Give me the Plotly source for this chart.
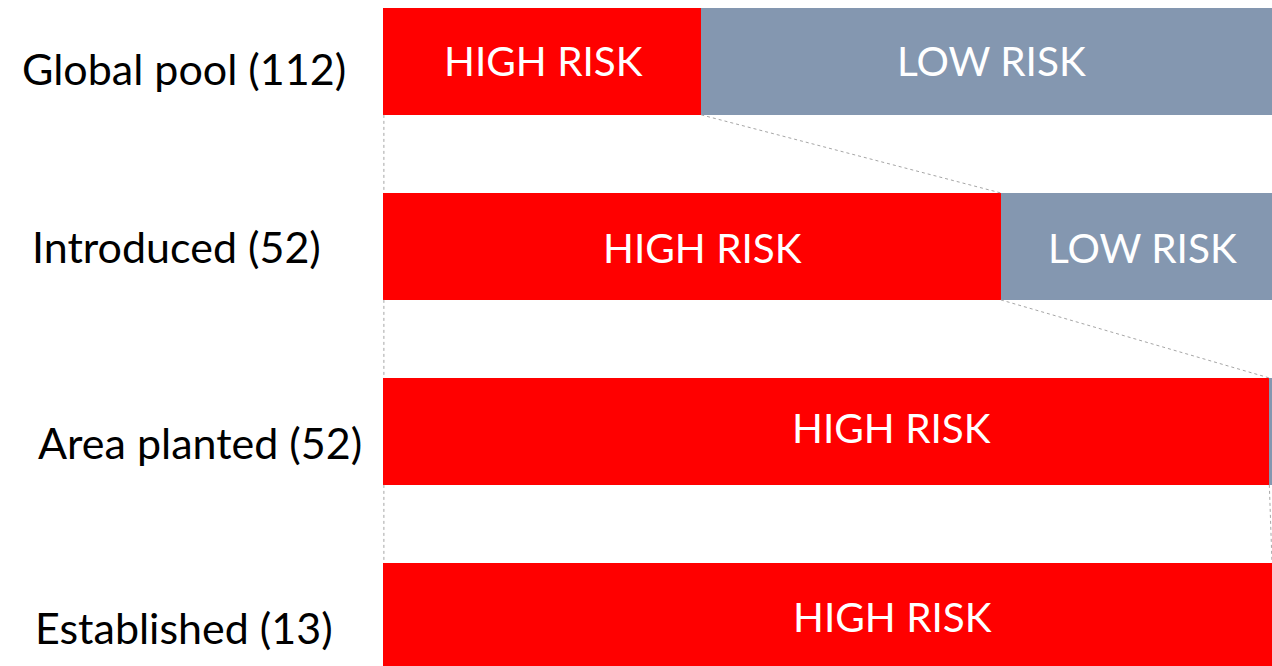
import plotly.graph_objects as go

categories = ["Global pool (112)", "Introduced (52)", "Area planted (52)", "Established (13)"]
high_risk = [35.8, 69.5, 99.7, 100.0]
low_risk = [64.2, 30.5, 0.3, 0.0]
high_text = ["HIGH RISK", "HIGH RISK", "HIGH RISK", "HIGH RISK"]
low_text = ["LOW RISK", "LOW RISK", "", ""]

W, H = 1272, 666
L = 383
FONT = "Lato, 'Open Sans', sans-serif"
RED = "#FF0000"
GRAY = "#8497B0"
BAR_W = 0.578

idx = list(range(len(categories)))

fig = go.Figure()
fig.add_trace(go.Bar(
    y=idx, x=high_risk, orientation="h", name="High risk",
    marker=dict(color=RED, line=dict(width=0)), width=BAR_W,
    hoverinfo="skip",
))
fig.add_trace(go.Bar(
    y=idx, x=low_risk, orientation="h", name="Low risk",
    marker=dict(color=GRAY, line=dict(width=0)), width=BAR_W,
    hoverinfo="skip",
))

# connector lines between consecutive bars
shapes = []
for i in range(len(categories) - 1):
    shapes.append(dict(type="line", xref="x", yref="y",
                       x0=high_risk[i], y0=i + BAR_W / 2,
                       x1=high_risk[i + 1], y1=i + 1 - BAR_W / 2,
                       line=dict(color="#A6A6A6", width=1, dash="dot")))
    shapes.append(dict(type="line", xref="x", yref="y",
                       x0=0.1, y0=i + BAR_W / 2,
                       x1=0.1, y1=i + 1 - BAR_W / 2,
                       line=dict(color="#A6A6A6", width=1, dash="dot")))


def px_x(px):
    return (px - L) / (W - L)


def px_y(py):
    return 1 - py / H


annotations = []
# category labels on the left (text-box positions as in the reference)
label_cx = [183.5, 176, 199.5, 184]
label_cy = [68, 246, 442, 627]
for lab, cx, cy in zip(categories, label_cx, label_cy):
    annotations.append(dict(
        text=lab, xref="paper", yref="paper", x=px_x(cx), y=px_y(cy),
        xanchor="center", yanchor="middle", showarrow=False,
        font=dict(size=43, color="black", family=FONT),
    ))

# text boxes inside the bars
high_cx = [543, 702, 891, 892]
high_cy = [61, 247, 427, 616]
low_cx = [991, 1142, 0, 0]
for t, cx, cy in zip(high_text, high_cx, high_cy):
    annotations.append(dict(
        text=t, xref="paper", yref="paper", x=px_x(cx), y=px_y(cy),
        xanchor="center", yanchor="middle", showarrow=False,
        font=dict(size=40.5, color="white", family=FONT),
    ))
for t, cx, cy in zip(low_text, low_cx, high_cy):
    if t:
        annotations.append(dict(
            text=t, xref="paper", yref="paper", x=px_x(cx), y=px_y(cy),
            xanchor="center", yanchor="middle", showarrow=False,
            font=dict(size=40.5, color="white", family=FONT),
        ))

fig.update_layout(
    width=W, height=H, barmode="stack", showlegend=False,
    margin=dict(l=L, r=0, t=0, b=0),
    paper_bgcolor="white", plot_bgcolor="white",
    xaxis=dict(range=[0, 100], visible=False, showgrid=False),
    yaxis=dict(range=[3.268, -0.332], visible=False, showgrid=False),
    shapes=shapes, annotations=annotations, bargap=0,
)

fig.write_html("out.html")
